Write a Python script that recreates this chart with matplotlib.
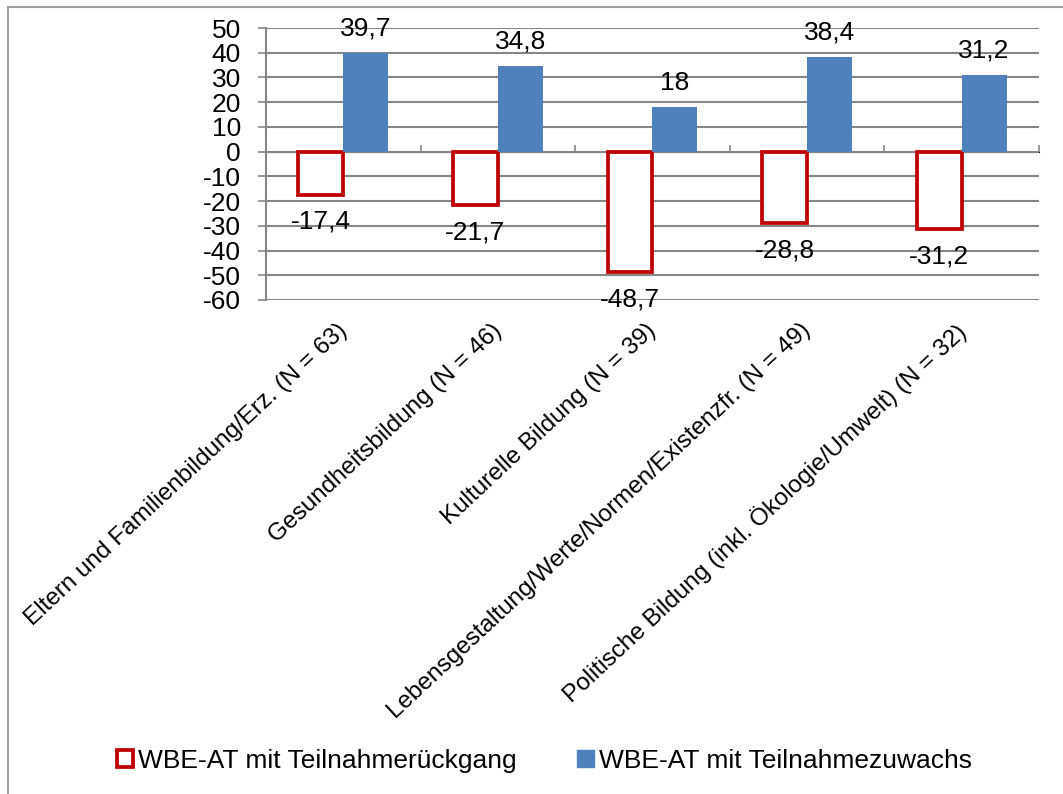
import matplotlib.pyplot as plt
from matplotlib.patches import Patch, Rectangle
from matplotlib.transforms import ScaledTranslation
import numpy as np

plt.rcParams['font.family'] = ['Liberation Sans', 'DejaVu Sans']

# Weiterbildungsbereiche mit Fallzahl
categories = [
    "Eltern und Familienbildung/Erz. (N = 63)",
    "Gesundheitsbildung (N = 46)",
    "Kulturelle Bildung (N = 39)",
    "Lebensgestaltung/Werte/Normen/Existenzfr. (N = 49)",
    "Politische Bildung (inkl. Ökologie/Umwelt) (N = 32)",
]
rueckgang = [-17.4, -21.7, -48.7, -28.8, -31.2]
zuwachs = [39.7, 34.8, 18, 38.4, 31.2]
series_names = ["WBE-AT mit Teilnahmerückgang", "WBE-AT mit Teilnahmezuwachs"]
yticks = list(range(-60, 51, 10))

red = "#C00000"
blue = "#4F81BD"
grid = "#868686"
fs = 19


def fmt(v):
    return f"{v:g}".replace(".", ",")


fig = plt.figure(figsize=(10.63, 7.94), dpi=100)
ax = fig.add_axes([0.2502, 0.6222, 0.9774 - 0.2502, 0.9647 - 0.6222])

x = np.arange(len(categories))
w = 0.29

bars_r = ax.bar(x - w / 2, rueckgang, w, facecolor="white", edgecolor=red,
                linewidth=2.7, zorder=3)
bars_b = ax.bar(x + w / 2, zuwachs, w, color=blue, zorder=3)

# Datenbeschriftungen ausserhalb der Balkenenden
for b, v in zip(bars_r, rueckgang):
    ax.annotate(fmt(v), (b.get_x() + b.get_width() / 2, v), xytext=(0, -11),
                textcoords="offset points", ha="center", va="top", fontsize=fs)
for b, v in zip(bars_b, zuwachs):
    ax.annotate(fmt(v), (b.get_x() + b.get_width() / 2, v), xytext=(0, 9),
                textcoords="offset points", ha="center", va="bottom", fontsize=fs)

ax.set_xlim(-0.5, len(categories) - 0.5)
ax.set_ylim(-60, 50)
ax.set_yticks(yticks)
ax.set_yticklabels([str(t) for t in yticks], fontsize=fs)
ax.yaxis.grid(True, color=grid, linewidth=1.5, zorder=0)
ax.set_axisbelow(True)
ax.tick_params(axis="y", length=6, width=1.2, color=grid, pad=12)

for s in ["top", "right", "bottom"]:
    ax.spines[s].set_visible(False)
ax.spines["left"].set_color(grid)
ax.spines["left"].set_linewidth(1.5)

ax.set_xticks(x)
ax.set_xticklabels(categories, rotation=43, ha="right", rotation_mode="anchor",
                   fontsize=17.5)
ax.tick_params(axis="x", length=0, pad=14)
shift = ScaledTranslation(-5 / 72, 0, fig.dpi_scale_trans)
for lbl in ax.get_xticklabels():
    lbl.set_transform(lbl.get_transform() + shift)

# Kategorieachse auf der Nulllinie
zero = ax.secondary_xaxis(60 / 110)
zero.set_xticks(np.arange(len(categories) + 1) - 0.5)
zero.set_xticklabels([])
zero.tick_params(axis="x", direction="out", length=5, width=1.2, color=grid)
zero.spines["bottom"].set_color(grid)
zero.spines["bottom"].set_linewidth(1.5)

handles = [
    Patch(facecolor="white", edgecolor=red, linewidth=2.7, label=series_names[0]),
    Patch(facecolor=blue, edgecolor=blue, label=series_names[1]),
]
fig.legend(handles=handles, loc="center", bbox_to_anchor=(0.512, 0.0416), ncol=2,
           frameon=False, fontsize=fs, handlelength=0.62, handleheight=0.62,
           handletextpad=0.18, columnspacing=2.3)

# Rahmen des Diagrammbereichs
fig.patches.append(Rectangle((8 / 1063, -0.05), 1.1, 1 - 7 / 794 + 0.05,
                             transform=fig.transFigure, fill=False,
                             edgecolor="#A0A0A0", linewidth=1.5))

fig.savefig("out.png", dpi=100)
